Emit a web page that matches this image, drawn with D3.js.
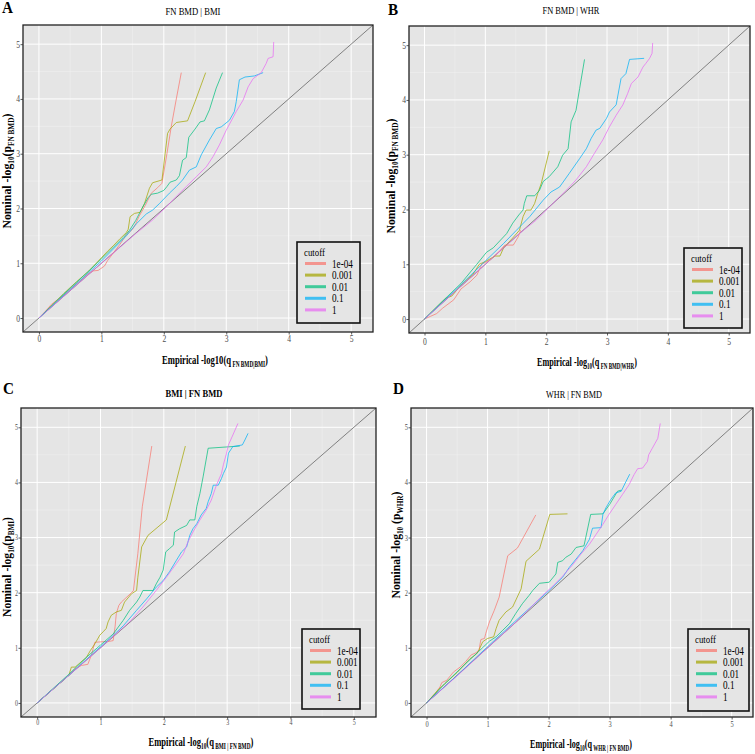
<!DOCTYPE html>
<html><head><meta charset="utf-8">
<script src="https://cdn.jsdelivr.net/npm/d3@7"></script>
<style>body{margin:0;background:#fff}svg{display:block}</style>
</head><body>
<svg id="chart" width="755" height="754"></svg>
<script>
const cutoffs = ["1e-04", "0.001", "0.01", "0.1", "1"];
const colors = ["#F8766D", "#A3A500", "#00BF7D", "#00B0F6", "#E76BF3"];
const tickValues = [0, 1, 2, 3, 4, 5];
const minorTickValues = [0.5, 1.5, 2.5, 3.5, 4.5];

// Panel A: FN BMD | BMI
const A_1e04 = [[0,0],[0.1,0.12],[0.2,0.25],[0.28,0.32],[0.4,0.42],[0.55,0.58],[0.7,0.72],[0.8,0.82],[0.87,0.86],[0.95,0.87],[1.05,0.95],[1.1,1.05],[1.2,1.2],[1.3,1.35],[1.4,1.52],[1.5,1.62],[1.55,1.72],[1.6,1.85],[1.7,2.05],[1.8,2.28],[1.9,2.38],[1.97,2.46],[2.05,3.0],[2.12,3.5],[2.2,4.0],[2.28,4.48]];
const A_0001 = [[0,0],[0.2,0.22],[0.4,0.45],[0.6,0.66],[0.8,0.86],[1.0,1.1],[1.1,1.22],[1.2,1.33],[1.3,1.45],[1.4,1.56],[1.43,1.62],[1.46,1.85],[1.53,1.91],[1.62,1.93],[1.69,2.09],[1.77,2.37],[1.82,2.47],[1.97,2.52],[2.06,3.37],[2.1,3.45],[2.2,3.57],[2.38,3.6],[2.5,3.95],[2.67,4.48]];
const A_001 = [[0,0],[0.2,0.22],[0.4,0.44],[0.6,0.65],[0.8,0.86],[1.0,1.08],[1.2,1.3],[1.35,1.47],[1.45,1.6],[1.55,1.78],[1.65,2.0],[1.75,2.2],[1.8,2.26],[1.9,2.28],[2.0,2.33],[2.05,2.4],[2.1,2.48],[2.2,2.52],[2.25,2.6],[2.3,2.88],[2.36,2.93],[2.4,3.3],[2.5,3.45],[2.58,3.58],[2.65,3.6],[2.73,3.8],[2.84,4.2],[2.94,4.48]];
const A_01 = [[0,0],[0.5,0.52],[1.0,1.04],[1.4,1.5],[1.56,1.72],[1.72,1.9],[1.82,1.97],[1.93,2.09],[2.09,2.28],[2.2,2.4],[2.3,2.52],[2.41,2.7],[2.52,2.76],[2.6,2.98],[2.73,3.25],[2.84,3.46],[2.92,3.49],[3.05,3.61],[3.13,3.77],[3.16,3.95],[3.21,4.35],[3.3,4.4],[3.45,4.42],[3.59,4.48]];
const A_1 = [[0,0],[0.5,0.5],[1.0,1.0],[1.56,1.55],[1.82,1.79],[2.04,2.03],[2.2,2.22],[2.36,2.4],[2.52,2.58],[2.68,2.76],[2.79,2.95],[2.89,3.16],[3.0,3.43],[3.16,3.77],[3.27,3.98],[3.35,4.22],[3.43,4.37],[3.56,4.48],[3.64,4.65],[3.67,4.74],[3.75,4.77],[3.76,5.04]];

// Panel B: FN BMD | WHR
const B_1e04 = [[0,0],[0.1,0.05],[0.2,0.1],[0.3,0.2],[0.48,0.35],[0.6,0.55],[0.75,0.68],[0.86,0.8],[0.94,1.0],[1.08,1.08],[1.2,1.2],[1.32,1.35],[1.46,1.35],[1.54,1.5],[1.58,1.62]];
const B_0001 = [[0,0],[0.2,0.22],[0.35,0.38],[0.45,0.42],[0.6,0.62],[0.8,0.82],[0.9,1.0],[1.0,1.05],[1.16,1.15],[1.24,1.15],[1.3,1.3],[1.45,1.48],[1.56,1.62],[1.62,1.87],[1.67,1.99],[1.75,1.99],[1.81,2.11],[1.86,2.29],[1.92,2.48],[2.05,3.07]];
const B_001 = [[0,0],[0.3,0.33],[0.6,0.65],[0.86,1.0],[1.02,1.22],[1.13,1.3],[1.35,1.56],[1.45,1.75],[1.55,1.9],[1.62,1.99],[1.64,2.11],[1.68,2.25],[1.81,2.25],[1.89,2.35],[1.95,2.51],[2.05,2.6],[2.19,2.78],[2.27,2.99],[2.36,3.11],[2.41,3.6],[2.49,3.81],[2.55,4.21],[2.63,4.74]];
const B_01 = [[0,0],[0.5,0.52],[1.0,1.06],[1.3,1.38],[1.51,1.62],[1.73,1.87],[1.95,2.17],[2.08,2.32],[2.22,2.41],[2.38,2.66],[2.55,2.93],[2.66,3.11],[2.74,3.3],[2.82,3.45],[2.88,3.48],[2.99,3.66],[3.04,3.78],[3.15,3.91],[3.23,4.39],[3.31,4.48],[3.37,4.74],[3.61,4.76]];
const B_1 = [[0,0],[0.5,0.5],[1.0,1.0],[1.56,1.56],[1.84,1.81],[2.11,2.11],[2.33,2.35],[2.49,2.54],[2.66,2.78],[2.79,3.02],[2.93,3.27],[3.04,3.51],[3.15,3.72],[3.26,3.91],[3.34,4.12],[3.40,4.30],[3.51,4.42],[3.59,4.6],[3.64,4.67],[3.70,4.76],[3.74,4.85],[3.75,5.04]];

// Panel C: BMI | FN BMD
const C_1e04 = [[0,0],[0.3,0.3],[0.5,0.5],[0.6,0.62],[0.7,0.68],[0.8,0.7],[0.86,0.88],[0.91,1.1],[1.15,1.12],[1.2,1.13],[1.23,1.38],[1.25,1.62],[1.29,1.77],[1.33,1.83],[1.49,2.0],[1.52,2.04],[1.59,2.71],[1.66,3.56],[1.81,4.66]];
const C_0001 = [[0,0],[0.3,0.3],[0.5,0.5],[0.54,0.65],[0.6,0.65],[0.78,0.83],[0.84,0.95],[0.91,1.07],[0.99,1.23],[1.05,1.3],[1.09,1.35],[1.12,1.47],[1.17,1.59],[1.25,1.65],[1.33,1.68],[1.38,1.83],[1.49,1.98],[1.57,2.04],[1.59,2.28],[1.65,2.83],[1.75,3.04],[2.04,3.32],[2.34,4.66]];
const C_001 = [[0,0],[0.5,0.52],[0.8,0.85],[1.0,1.05],[1.2,1.25],[1.36,1.5],[1.46,1.68],[1.57,1.83],[1.62,1.92],[1.67,2.04],[1.83,2.04],[1.88,2.16],[1.94,2.28],[1.99,2.41],[2.03,2.74],[2.09,2.8],[2.15,2.86],[2.17,3.1],[2.25,3.16],[2.36,3.22],[2.41,3.32],[2.49,3.32],[2.52,3.56],[2.57,3.8],[2.62,4.1],[2.70,4.62],[3.2,4.66]];
const C_01 = [[0,0],[0.5,0.5],[1.0,1.02],[1.15,1.17],[1.36,1.4],[1.57,1.68],[1.73,1.89],[1.88,2.1],[1.99,2.22],[2.09,2.38],[2.2,2.59],[2.28,2.74],[2.36,2.83],[2.41,3.04],[2.46,3.16],[2.52,3.25],[2.59,3.41],[2.67,3.53],[2.70,3.65],[2.75,3.8],[2.78,3.95],[2.86,3.95],[2.91,4.07],[2.94,4.16],[2.99,4.28],[3.02,4.53],[3.09,4.65],[3.24,4.68],[3.28,4.77],[3.33,4.89]];
const C_1 = [[0,0],[0.5,0.5],[1.0,1.0],[1.2,1.21],[1.46,1.47],[1.67,1.74],[1.88,2.04],[2.04,2.28],[2.2,2.53],[2.31,2.71],[2.38,2.92],[2.46,3.10],[2.57,3.32],[2.67,3.5],[2.75,3.68],[2.83,3.95],[2.91,4.16],[2.94,4.32],[2.99,4.53],[3.02,4.68],[3.09,4.86],[3.17,5.07]];

// Panel D: WHR | FN BMD
const D_1e04 = [[0,0],[0.14,0.17],[0.22,0.29],[0.25,0.37],[0.33,0.41],[0.44,0.56],[0.55,0.65],[0.64,0.75],[0.73,0.87],[0.81,0.91],[0.86,0.96],[0.89,1.15],[0.95,1.17],[0.97,1.26],[1.03,1.47],[1.11,1.68],[1.19,1.92],[1.33,2.67],[1.49,2.81],[1.79,3.41]];
const D_0001 = [[0,0],[0.2,0.25],[0.5,0.55],[0.71,0.8],[0.82,0.89],[0.86,0.96],[0.92,1.11],[1.0,1.17],[1.10,1.2],[1.14,1.35],[1.19,1.5],[1.30,1.65],[1.41,1.74],[1.55,2.07],[1.63,2.57],[1.85,2.79],[2.02,3.42],[2.31,3.43]];
const D_001 = [[0,0],[0.3,0.35],[0.6,0.67],[0.85,0.93],[1.03,1.12],[1.14,1.2],[1.25,1.32],[1.36,1.44],[1.46,1.62],[1.57,1.8],[1.68,1.95],[1.74,2.04],[1.85,2.17],[2.01,2.19],[2.12,2.34],[2.15,2.55],[2.23,2.58],[2.28,2.64],[2.37,2.7],[2.45,2.82],[2.58,2.85],[2.69,3.42],[2.89,3.43],[3.0,3.6],[3.13,3.84],[3.19,3.86]];
const D_01 = [[0,0],[0.5,0.5],[1.0,1.02],[1.5,1.53],[2.01,2.04],[2.12,2.16],[2.23,2.28],[2.34,2.46],[2.45,2.61],[2.56,2.76],[2.67,2.97],[2.72,3.17],[2.86,3.18],[2.89,3.42],[2.94,3.54],[3.02,3.69],[3.10,3.81],[3.19,3.84],[3.27,4.02],[3.33,4.15]];
const D_1 = [[0,0],[0.5,0.49],[1.0,1.0],[1.5,1.5],[1.90,1.95],[2.07,2.12],[2.23,2.3],[2.39,2.5],[2.53,2.7],[2.67,2.88],[2.78,3.06],[2.89,3.24],[2.99,3.42],[3.10,3.6],[3.21,3.78],[3.32,3.96],[3.40,4.14],[3.46,4.25],[3.54,4.26],[3.62,4.38],[3.64,4.50],[3.70,4.62],[3.79,4.80],[3.83,5.07]];

const domain = [-0.255, 5.35];
const FONT = "Liberation Serif, Times New Roman, Times, serif";

const panels = [
  {id:"A", title:"FN BMD | BMI", titleBold:false, series:[A_1e04,A_0001,A_001,A_01,A_1],
   plot:[23,373,25,332], letter:[2,13], titlePos:[193,15], titleW:55,
   xTitle:[["Empirical -log10(q",0],[" FN BMD|BMI",1],[")",0]], xTitlePos:[215,364], xTitleW:106,
   yTitle:[["Nominal -log",0],["10",1],["(p",0],["FN BMD",1],[")",0]], yTitlePos:[11,171], yTitleW:115,
   tickFont:9.5, xTickDy:10, legend:[297,242,63,81]},
  {id:"B", title:"FN BMD | WHR", titleBold:false, series:[B_1e04,B_0001,B_001,B_01,B_1],
   plot:[409,750,26,333], letter:[388,15], titlePos:[571,14], titleW:57,
   xTitle:[["Empirical -log",0],["10",1],["(q",0],[" FN BMD|WHR",1],[")",0]], xTitlePos:[587,366], xTitleW:100,
   yTitle:[["Nominal -log",0],["10",1],["(p",0],["FN BMD",1],[")",0]], yTitlePos:[395,176], yTitleW:115,
   tickFont:9.5, xTickDy:12, legend:[684,248,58,80]},
  {id:"C", title:"BMI | FN BMD", titleBold:true, series:[C_1e04,C_0001,C_001,C_01,C_1],
   plot:[21,376,408,717], letter:[3,394], titlePos:[194,397], titleW:57,
   xTitle:[["Empirical -log",0],["10",1],["(q",0],[" BMI | FN BMD",1],[")",0]], xTitlePos:[201,746], xTitleW:105,
   yTitle:[["Nominal -log",0],["10",1],["(p",0],["BMI",1],[")",0]], yTitlePos:[11,567], yTitleW:100,
   tickFont:7.5, xTickDy:8, legend:[302,629,58,80]},
  {id:"D", title:"WHR | FN BMD", titleBold:false, series:[D_1e04,D_0001,D_001,D_01,D_1],
   plot:[411,753,408,717], letter:[393,394], titlePos:[574,398], titleW:56,
   xTitle:[["Empirical -log",0],["10",1],["(q",0],[" WHR | FN BMD",1],[")",0]], xTitlePos:[581,748], xTitleW:102,
   yTitle:[["Nominal -log",0],["10",1],[" (p",0],["WHR",1],[")",0]], yTitlePos:[400,545], yTitleW:107,
   tickFont:8, xTickDy:10, legend:[688,629,61,82]}
];

const svg = d3.select("#chart");

function richText(parent, parts, size, bold, x, y, anchor, rotate, targetW, factor) {
  const g = parent.append("g");
  const t = g.append("text").attr("font-family", FONT).attr("font-size", size)
    .attr("font-weight", bold ? "bold" : "normal").attr("fill", "#000");
  parts.forEach(([s, sub], i) => {
    const ts = t.append("tspan").text(s);
    if (sub) ts.attr("font-size", size * 0.62).attr("dy", size * 0.25);
    else if (i > 0 && parts[i - 1][1]) ts.attr("dy", -size * 0.25);
  });
  const w = t.node().getComputedTextLength();
  const sx = targetW ? targetW / w : (factor || 1);
  const ax = anchor === "middle" ? -w / 2 : anchor === "end" ? -w : 0;
  t.attr("x", ax);
  g.attr("transform", `translate(${x},${y})` + (rotate ? ` rotate(${rotate})` : "") + ` scale(${sx},1)`);
  return t;
}

panels.forEach((p, pi) => {
  const [x0, x1, y0, y1] = p.plot;
  const xs = d3.scaleLinear().domain(domain).range([x0, x1]);
  const ys = d3.scaleLinear().domain(domain).range([y1, y0]);
  const g = svg.append("g");

  g.append("rect").attr("x", x0).attr("y", y0).attr("width", x1 - x0).attr("height", y1 - y0).attr("fill", "#E5E5E5");

  // minor grid
  g.append("g").selectAll("line").data(minorTickValues).join("line")
    .attr("x1", d => xs(d)).attr("x2", d => xs(d)).attr("y1", y0).attr("y2", y1)
    .attr("stroke", "#F2F2F2").attr("stroke-width", 0.5);
  g.append("g").selectAll("line").data(minorTickValues).join("line")
    .attr("y1", d => ys(d)).attr("y2", d => ys(d)).attr("x1", x0).attr("x2", x1)
    .attr("stroke", "#F2F2F2").attr("stroke-width", 0.5);
  // major grid
  g.append("g").selectAll("line").data(tickValues).join("line")
    .attr("x1", d => xs(d)).attr("x2", d => xs(d)).attr("y1", y0).attr("y2", y1)
    .attr("stroke", "#FFFFFF").attr("stroke-width", 1);
  g.append("g").selectAll("line").data(tickValues).join("line")
    .attr("y1", d => ys(d)).attr("y2", d => ys(d)).attr("x1", x0).attr("x2", x1)
    .attr("stroke", "#FFFFFF").attr("stroke-width", 1);

  const clipId = "clip" + pi;
  svg.append("clipPath").attr("id", clipId).append("rect")
    .attr("x", x0).attr("y", y0).attr("width", x1 - x0).attr("height", y1 - y0);
  const inner = g.append("g").attr("clip-path", `url(#${clipId})`);

  // diagonal reference
  inner.append("line").attr("x1", xs(domain[0])).attr("y1", ys(domain[0]))
    .attr("x2", xs(domain[1])).attr("y2", ys(domain[1]))
    .attr("stroke", "#555").attr("stroke-width", 0.7);

  const line = d3.line().x(d => xs(d[0])).y(d => ys(d[1]));
  p.series.forEach((s, i) => {
    inner.append("path").datum(s).attr("d", line).attr("fill", "none")
      .attr("stroke", colors[i]).attr("stroke-opacity", 0.72).attr("stroke-width", 1);
  });

  // border
  g.append("rect").attr("x", x0).attr("y", y0).attr("width", x1 - x0).attr("height", y1 - y0)
    .attr("fill", "none").attr("stroke", "#222").attr("stroke-width", 1.3);

  // axes ticks
  const xAxis = d3.axisBottom(xs).tickValues(tickValues).tickSize(2.5).tickPadding(1).tickFormat(d3.format("d"));
  const yAxis = d3.axisLeft(ys).tickValues(tickValues).tickSize(2.5).tickPadding(1).tickFormat(d3.format("d"));
  const gx = g.append("g").attr("transform", `translate(0,${y1})`).call(xAxis);
  const gy = g.append("g").attr("transform", `translate(${x0},0)`).call(yAxis);
  [gx, gy].forEach(a => {
    a.select(".domain").remove();
    a.selectAll(".tick line").attr("stroke", "#333").attr("stroke-width", 0.8);
    a.selectAll(".tick text").attr("font-family", FONT).attr("font-size", p.tickFont).attr("fill", "#4D4D4D");
  });
  gx.selectAll(".tick text").attr("text-anchor", "middle").attr("y", 0).attr("dy", "0")
    .attr("transform", `translate(0,${p.xTickDy}) scale(0.8,1)`);
  gy.selectAll(".tick text").attr("x", 0).attr("dy", "0.32em")
    .attr("transform", "translate(-3,0) scale(0.8,1)");

  // letter
  richText(svg, [[p.id, 0]], 16, true, p.letter[0], p.letter[1], "start", 0, null, 0.95);
  // title
  richText(svg, [[p.title, 0]], 11, p.titleBold, p.titlePos[0], p.titlePos[1], "middle", 0, p.titleW);
  // axis titles
  richText(svg, p.xTitle, 12, true, p.xTitlePos[0], p.xTitlePos[1], "middle", 0, p.xTitleW);
  richText(svg, p.yTitle, 12, true, p.yTitlePos[0], p.yTitlePos[1], "middle", -90, p.yTitleW);

  // legend
  const [lx, ly, lw, lh] = p.legend;
  const lg = svg.append("g");
  lg.append("rect").attr("x", lx).attr("y", ly).attr("width", lw).attr("height", lh)
    .attr("fill", "#E5E5E5").attr("stroke", "#111").attr("stroke-width", 1.6);
  richText(lg, [["cutoff", 0]], 11, false, lx + 7, ly + 13.5, "start", 0, null, 0.8);
  cutoffs.forEach((c, i) => {
    const cy = ly + 21.5 + i * 11.6;
    lg.append("line").attr("x1", lx + 8).attr("x2", lx + 29).attr("y1", cy).attr("y2", cy)
      .attr("stroke", colors[i]).attr("stroke-opacity", 0.72).attr("stroke-width", 3);
    richText(lg, [[c, 0]], 11.5, false, lx + 35, cy + 4, "start", 0, null, 0.8);
  });
});
</script>
</body></html>
